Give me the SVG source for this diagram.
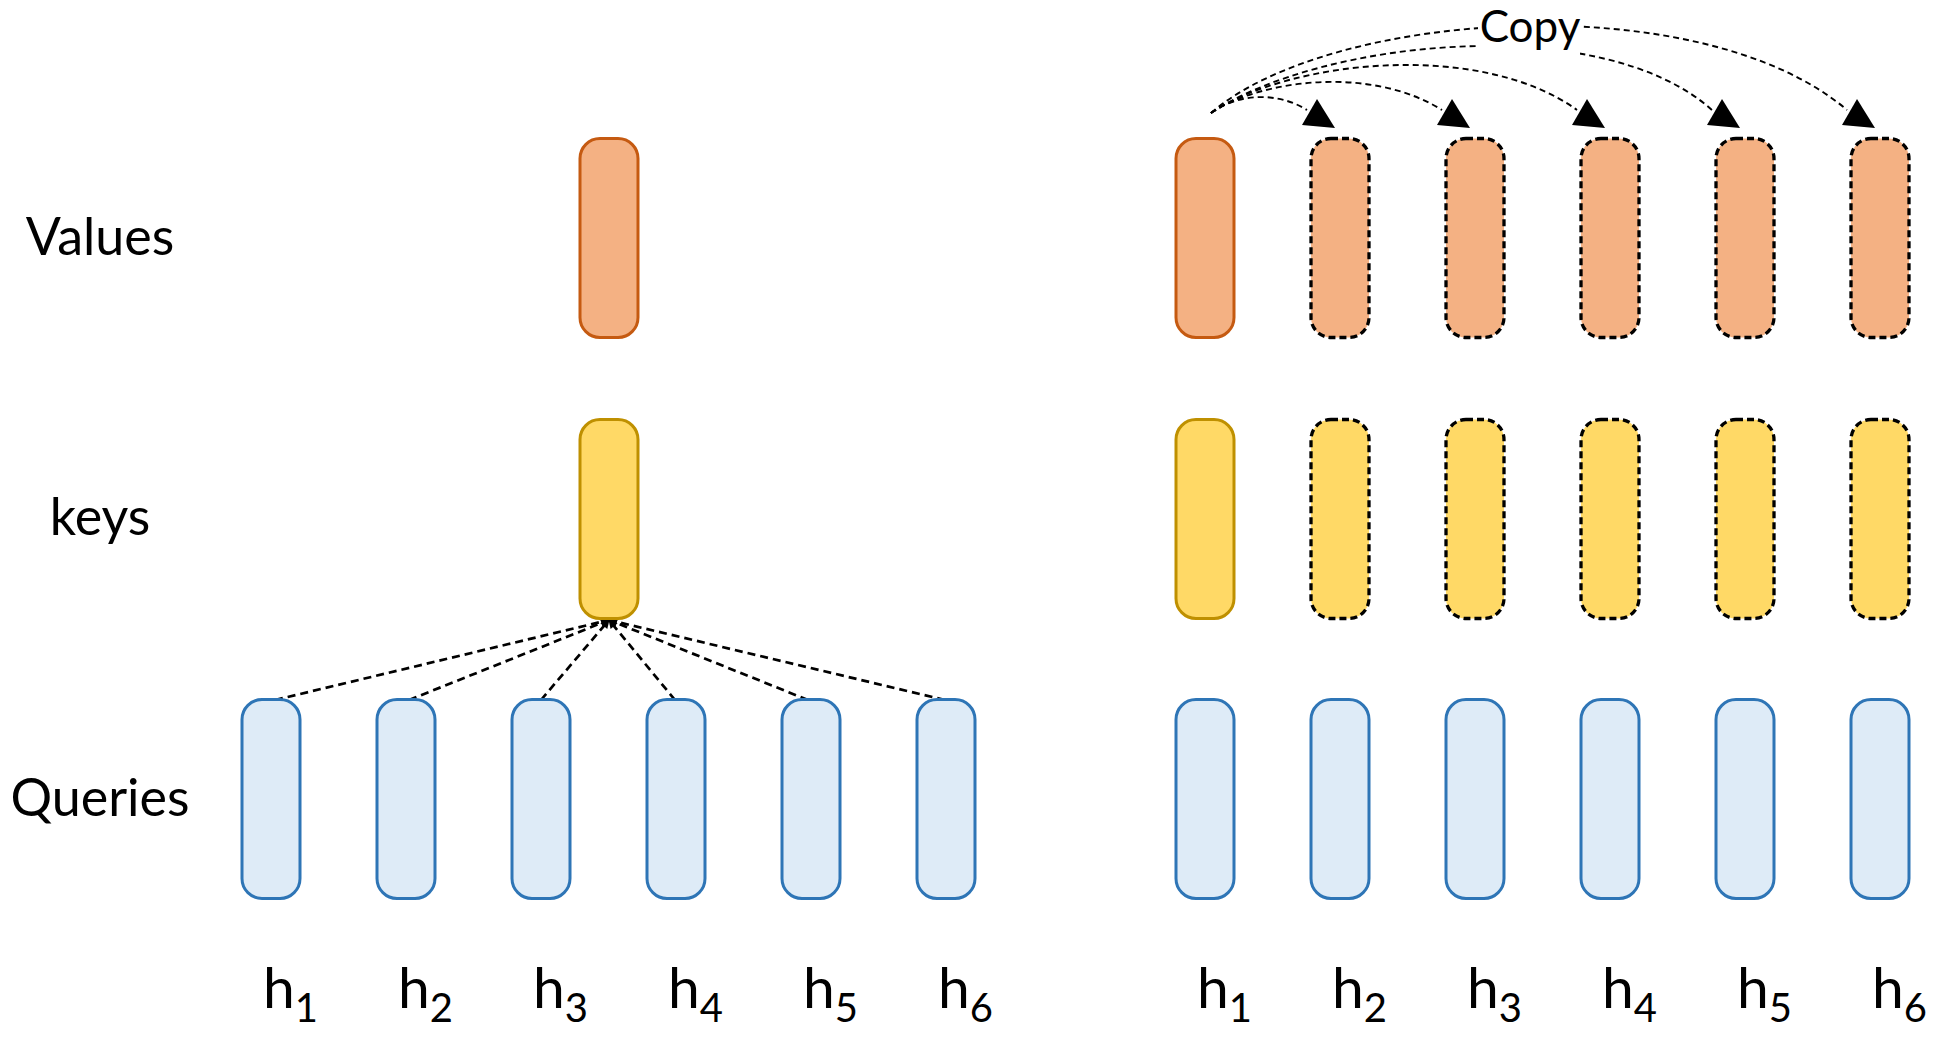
<svg xmlns="http://www.w3.org/2000/svg" width="1950" height="1038" viewBox="0 0 1950 1038">
<defs>
<style>
.txt{font-family:Lato,"Open Sans","Liberation Sans",sans-serif;fill:#000}
.lbl{font-size:52px;text-anchor:middle}
.h{font-size:57px}
.sub{font-size:40px}
.box{stroke-width:3}
.val{fill:#F4B183;stroke:#C55A11}
.key{fill:#FFD966;stroke:#BF9000}
.qry{fill:#DEEBF7;stroke:#2E75B6}
.cpy{stroke:#000;stroke-width:3.3;stroke-dasharray:7 4}
.att{fill:none;stroke:#000;stroke-width:2.7;stroke-dasharray:8 5}
.cur{fill:none;stroke:#000;stroke-width:1.9;stroke-dasharray:6 4}
</style>
<marker id="tri" markerUnits="userSpaceOnUse" markerWidth="40" markerHeight="40" viewBox="-10 -15 40 40" refX="0" refY="0" orient="0" overflow="visible">
<path d="M10,-11 L-5,15 L28,18 Z" fill="#000"/>
</marker>
<marker id="sm" markerUnits="userSpaceOnUse" markerWidth="9" markerHeight="9" viewBox="0 0 9 9" refX="8" refY="4.5" orient="auto" overflow="visible">
<path d="M0,0 L9,4.5 L0,9 Z" fill="#000"/>
</marker>
</defs>
<rect width="1950" height="1038" fill="#fff"/>

<g id="row-labels">
<text class="txt lbl" x="100" y="255">Values</text>
<text class="txt lbl" x="100" y="535">keys</text>
<text class="txt lbl" x="100" y="816">Queries</text>
</g>

<g id="connectors">
<path class="att" marker-end="url(#sm)" d="M275,700 L609,620"/>
<path class="att" marker-end="url(#sm)" d="M409,700 L609,620"/>
<path class="att" marker-end="url(#sm)" d="M541,700 L609,620"/>
<path class="att" marker-end="url(#sm)" d="M675,700 L609,620"/>
<path class="att" marker-end="url(#sm)" d="M808,700 L609,620"/>
<path class="att" marker-end="url(#sm)" d="M945,700 L609,620"/>
<path class="cur" marker-end="url(#tri)" d="M1211,113 C1235,95 1275,90 1307,110"/>
<path class="cur" marker-end="url(#tri)" d="M1211,113 C1260,80 1370,65 1442,110"/>
<path class="cur" marker-end="url(#tri)" d="M1211,113 C1290,60 1480,40 1577,110"/>
<path class="cur" marker-end="url(#tri)" d="M1211,113 C1320,40 1600,10 1712,110"/>
<path class="cur" marker-end="url(#tri)" d="M1211,113 C1330,10 1700,-15 1847,110"/>
</g>

<g id="copy-label">
<rect x="1478" y="2" width="102" height="56" fill="#fff"/>
<text class="txt" x="1530" y="42" font-size="44" text-anchor="middle">Copy</text>
</g>

<g id="left-value"><rect class="box val" x="580" y="138.5" width="58" height="199" rx="20"/></g>
<g id="left-key"><rect class="box key" x="580" y="419.5" width="58" height="199" rx="20"/></g>

<g id="left-q1"><rect class="box qry" x="242" y="699.5" width="58" height="199" rx="20"/></g>
<g id="left-q2"><rect class="box qry" x="377" y="699.5" width="58" height="199" rx="20"/></g>
<g id="left-q3"><rect class="box qry" x="512" y="699.5" width="58" height="199" rx="20"/></g>
<g id="left-q4"><rect class="box qry" x="647" y="699.5" width="58" height="199" rx="20"/></g>
<g id="left-q5"><rect class="box qry" x="782" y="699.5" width="58" height="199" rx="20"/></g>
<g id="left-q6"><rect class="box qry" x="917" y="699.5" width="58" height="199" rx="20"/></g>

<g id="right-v1"><rect class="box val" x="1176" y="138.5" width="58" height="199" rx="20"/></g>
<g id="right-v2"><rect class="box val cpy" x="1311" y="138.5" width="58" height="199" rx="20"/></g>
<g id="right-v3"><rect class="box val cpy" x="1446" y="138.5" width="58" height="199" rx="20"/></g>
<g id="right-v4"><rect class="box val cpy" x="1581" y="138.5" width="58" height="199" rx="20"/></g>
<g id="right-v5"><rect class="box val cpy" x="1716" y="138.5" width="58" height="199" rx="20"/></g>
<g id="right-v6"><rect class="box val cpy" x="1851" y="138.5" width="58" height="199" rx="20"/></g>

<g id="right-k1"><rect class="box key" x="1176" y="419.5" width="58" height="199" rx="20"/></g>
<g id="right-k2"><rect class="box key cpy" x="1311" y="419.5" width="58" height="199" rx="20"/></g>
<g id="right-k3"><rect class="box key cpy" x="1446" y="419.5" width="58" height="199" rx="20"/></g>
<g id="right-k4"><rect class="box key cpy" x="1581" y="419.5" width="58" height="199" rx="20"/></g>
<g id="right-k5"><rect class="box key cpy" x="1716" y="419.5" width="58" height="199" rx="20"/></g>
<g id="right-k6"><rect class="box key cpy" x="1851" y="419.5" width="58" height="199" rx="20"/></g>

<g id="right-q1"><rect class="box qry" x="1176" y="699.5" width="58" height="199" rx="20"/></g>
<g id="right-q2"><rect class="box qry" x="1311" y="699.5" width="58" height="199" rx="20"/></g>
<g id="right-q3"><rect class="box qry" x="1446" y="699.5" width="58" height="199" rx="20"/></g>
<g id="right-q4"><rect class="box qry" x="1581" y="699.5" width="58" height="199" rx="20"/></g>
<g id="right-q5"><rect class="box qry" x="1716" y="699.5" width="58" height="199" rx="20"/></g>
<g id="right-q6"><rect class="box qry" x="1851" y="699.5" width="58" height="199" rx="20"/></g>

<g id="head-labels">
<text class="txt h" x="263" y="1008">h<tspan class="sub" dy="14">1</tspan></text>
<text class="txt h" x="398" y="1008">h<tspan class="sub" dy="14">2</tspan></text>
<text class="txt h" x="533" y="1008">h<tspan class="sub" dy="14">3</tspan></text>
<text class="txt h" x="668" y="1008">h<tspan class="sub" dy="14">4</tspan></text>
<text class="txt h" x="803" y="1008">h<tspan class="sub" dy="14">5</tspan></text>
<text class="txt h" x="938" y="1008">h<tspan class="sub" dy="14">6</tspan></text>
<text class="txt h" x="1197" y="1008">h<tspan class="sub" dy="14">1</tspan></text>
<text class="txt h" x="1332" y="1008">h<tspan class="sub" dy="14">2</tspan></text>
<text class="txt h" x="1467" y="1008">h<tspan class="sub" dy="14">3</tspan></text>
<text class="txt h" x="1602" y="1008">h<tspan class="sub" dy="14">4</tspan></text>
<text class="txt h" x="1737" y="1008">h<tspan class="sub" dy="14">5</tspan></text>
<text class="txt h" x="1872" y="1008">h<tspan class="sub" dy="14">6</tspan></text>
</g>
</svg>
